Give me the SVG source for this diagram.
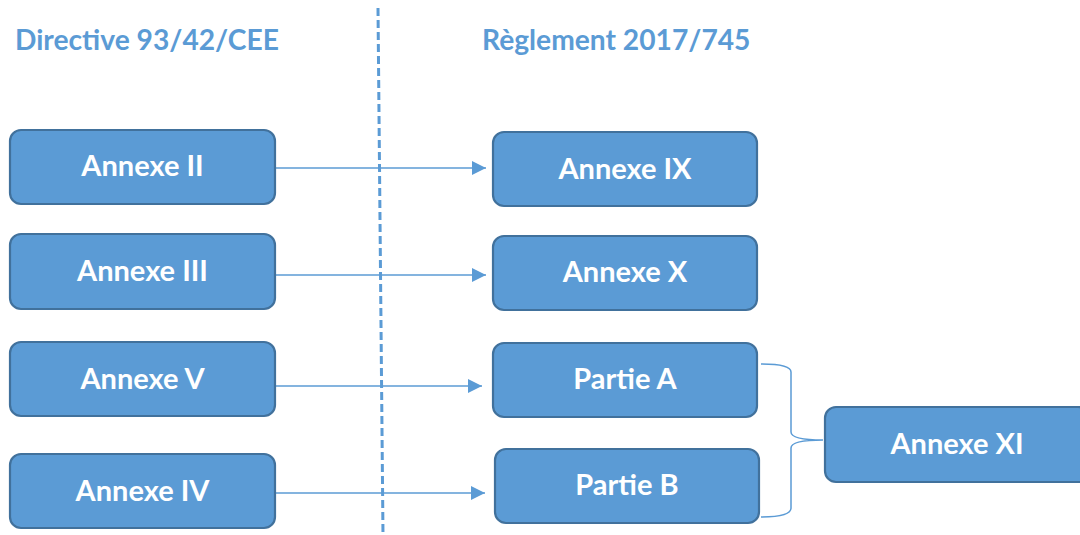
<svg xmlns="http://www.w3.org/2000/svg" width="1080" height="535" viewBox="0 0 1080 535">
<style>
.box{fill:#5b9bd5;stroke:#41719c;stroke-width:2.2}
.lbl{fill:#ffffff;font-family:Lato,"Open Sans",sans-serif;font-weight:bold;font-size:29px;text-anchor:middle}
.title{fill:#5b9bd5;font-family:Lato,"Open Sans",sans-serif;font-weight:bold;font-size:28.2px}
.conn{stroke:#5b9bd5;stroke-width:1.5;fill:none}
</style>
<defs>
<marker id="ah" markerWidth="14" markerHeight="14" refX="14" refY="7" orient="auto" markerUnits="userSpaceOnUse">
<path d="M0,0 L14,7 L0,14 Z" fill="#5b9bd5"/>
</marker>
</defs>
<rect width="1080" height="535" fill="#ffffff"/>
<text class="title" x="15" y="50">Directive 93/42/CEE</text>
<text class="title" x="482" y="50">Règlement 2017/745</text>
<line x1="378" y1="8" x2="383" y2="535" stroke="#5b9bd5" stroke-width="3" stroke-dasharray="8,4"/>
<g id="connectors">
<line class="conn" x1="276" y1="168" x2="486" y2="168" marker-end="url(#ah)"/>
<line class="conn" x1="276" y1="275" x2="486" y2="275" marker-end="url(#ah)"/>
<line class="conn" x1="276" y1="386" x2="482" y2="386" marker-end="url(#ah)"/>
<line class="conn" x1="276" y1="493" x2="485" y2="493" marker-end="url(#ah)"/>
<path class="conn" d="M761,364 Q791,364 791,372 L791,432 Q791,440 823,440 Q791,440 791,448 L791,508 Q791,517 761,517"/>
</g>
<g id="n-annexe-ii"><rect class="box" x="10" y="130" width="265" height="74" rx="11"/><text class="lbl" x="142.5" y="176">Annexe II</text></g>
<g id="n-annexe-iii"><rect class="box" x="10" y="234" width="265" height="75" rx="11"/><text class="lbl" x="142.5" y="281">Annexe III</text></g>
<g id="n-annexe-v"><rect class="box" x="10" y="342" width="265" height="74" rx="11"/><text class="lbl" x="142.5" y="389">Annexe V</text></g>
<g id="n-annexe-iv"><rect class="box" x="10" y="454" width="265" height="74" rx="11"/><text class="lbl" x="142.5" y="501">Annexe IV</text></g>
<g id="n-annexe-ix"><rect class="box" x="493" y="132" width="264" height="74" rx="11"/><text class="lbl" x="625" y="179">Annexe IX</text></g>
<g id="n-annexe-x"><rect class="box" x="493" y="236" width="264" height="74" rx="11"/><text class="lbl" x="625" y="282">Annexe X</text></g>
<g id="n-partie-a"><rect class="box" x="493" y="343" width="264" height="74" rx="11"/><text class="lbl" x="625" y="389">Partie A</text></g>
<g id="n-partie-b"><rect class="box" x="495" y="449" width="264" height="74" rx="11"/><text class="lbl" x="627" y="495">Partie B</text></g>
<g id="n-annexe-xi"><rect class="box" x="825" y="407" width="264" height="75" rx="11"/><text class="lbl" x="957" y="454">Annexe XI</text></g>
</svg>
